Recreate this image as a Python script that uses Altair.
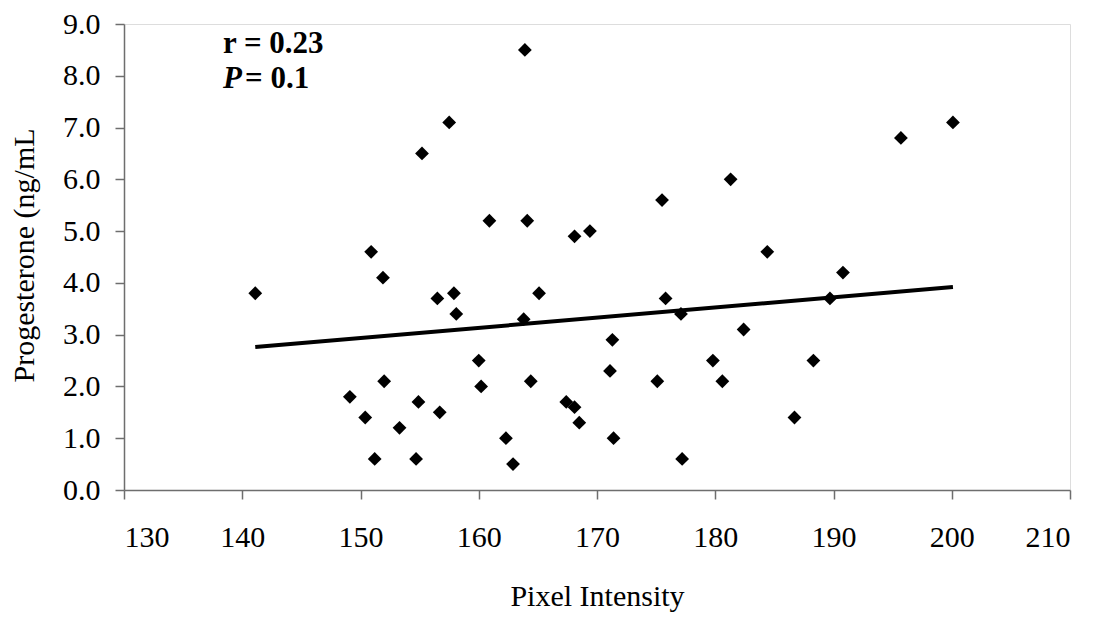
import altair as alt
import pandas as pd

# Scatter data
pixel_intensity = [141.1, 149.1, 150.4, 151.2, 152.0, 151.9, 150.9, 153.3, 154.7, 154.9,
                   155.2, 156.5, 156.7, 157.5, 157.9, 158.1, 160.0, 160.2, 160.9, 162.3,
                   162.9, 163.8, 163.9, 164.1, 164.4, 165.1, 167.4, 168.1, 168.1, 168.5,
                   169.4, 171.1, 171.3, 171.4, 175.1, 175.5, 175.8, 177.1, 177.2, 179.8,
                   180.6, 181.3, 182.4, 184.4, 186.7, 188.3, 189.7, 190.8, 195.7, 200.1]
progesterone = [3.8, 1.8, 1.4, 0.6, 2.1, 4.1, 4.6, 1.2, 0.6, 1.7,
                6.5, 3.7, 1.5, 7.1, 3.8, 3.4, 2.5, 2.0, 5.2, 1.0,
                0.5, 3.3, 8.5, 5.2, 2.1, 3.8, 1.7, 1.6, 4.9, 1.3,
                5.0, 2.3, 2.9, 1.0, 2.1, 5.6, 3.7, 3.4, 0.6, 2.5,
                2.1, 6.0, 3.1, 4.6, 1.4, 2.5, 3.7, 4.2, 6.8, 7.1]

# Trend line end points
trend_x = [141.1, 200.1]
trend_y = [2.76, 3.92]

# Annotation texts
stat_r_text = ["r = 0.23"]
stat_p_symbol = ["P"]
stat_p_text = ["= 0.1"]

x_ticks = [130, 140, 150, 160, 170, 180, 190, 200, 210]
y_ticks = [0, 1, 2, 3, 4, 5, 6, 7, 8, 9]

pts = pd.DataFrame({"x": pixel_intensity, "y": progesterone})
trend = pd.DataFrame({"x": trend_x, "y": trend_y})

FONT = "Liberation Serif"
AXIS_COLOR = "#6e6e6e"

x_scale = alt.Scale(domain=[130, 210], nice=False, zero=False)
y_scale = alt.Scale(domain=[0, 9], nice=False)

x_axis = alt.Axis(values=x_ticks, title="Pixel Intensity", grid=False,
                  domainColor=AXIS_COLOR, tickColor=AXIS_COLOR, tickSize=9,
                  labelFont=FONT, labelFontSize=30, labelColor="black", labelPadding=23,
                  titleFont=FONT, titleFontSize=30, titleFontWeight="normal", titleColor="black",
                  titleX=473, titleY=115, titleBaseline="alphabetic", titleAlign="center",
                  domainWidth=1.5, tickWidth=1.5)
y_axis = alt.Axis(values=y_ticks, format=".1f", title="Progesterone (ng/mL", grid=False,
                  domainColor=AXIS_COLOR, tickColor=AXIS_COLOR, tickSize=9,
                  labelFont=FONT, labelFontSize=30, labelColor="black", labelPadding=15,
                  titleFont=FONT, titleFontSize=30, titleFontWeight="normal", titleColor="black",
                  titleX=-91, titleY=231, titleAngle=270, titleBaseline="alphabetic",
                  titleAlign="center", domainWidth=1.5, tickWidth=1.5)

points = alt.Chart(pts).mark_point(shape="diamond", filled=True, color="black",
                                   size=190, opacity=1).encode(
    x=alt.X("x:Q", scale=x_scale, axis=x_axis),
    y=alt.Y("y:Q", scale=y_scale, axis=y_axis),
)

line = alt.Chart(trend).mark_line(color="black", strokeWidth=4).encode(
    x=alt.X("x:Q", scale=x_scale),
    y=alt.Y("y:Q", scale=y_scale),
)

r_label = alt.Chart(pd.DataFrame({"t": stat_r_text})).mark_text(
    font=FONT, fontSize=31, fontWeight="bold", align="left", baseline="alphabetic",
    color="black").encode(x=alt.value(99), y=alt.value(29), text="t:N")
p_sym = alt.Chart(pd.DataFrame({"t": stat_p_symbol})).mark_text(
    font=FONT, fontSize=31, fontWeight="bold", fontStyle="italic", align="left",
    baseline="alphabetic", color="black").encode(x=alt.value(99), y=alt.value(64), text="t:N")
p_label = alt.Chart(pd.DataFrame({"t": stat_p_text})).mark_text(
    font=FONT, fontSize=31, fontWeight="bold", align="left", baseline="alphabetic",
    color="black").encode(x=alt.value(121), y=alt.value(64), text="t:N")

chart = alt.layer(line, points, r_label, p_sym, p_label).properties(
    width=946, height=466,
    autosize="none",
    padding={"left": 116, "top": 16, "right": 20, "bottom": 125},
).configure_view(stroke=None).configure(background="white")

chart.save("out.html", embed_options={"renderer": "svg", "actions": False})
